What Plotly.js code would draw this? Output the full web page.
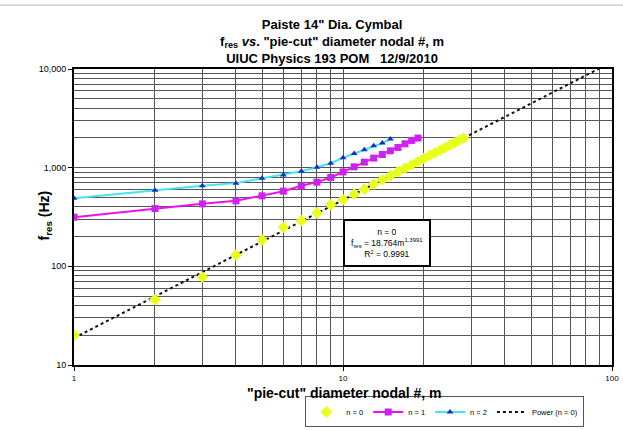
<!DOCTYPE html>
<html>
<head>
<meta charset="utf-8">
<script src="https://cdn.plot.ly/plotly-3.0.1.min.js"></script>
<style>html,body{margin:0;padding:0;background:#fff;}#chart{width:623px;height:430px;}</style>
</head>
<body>
<div id="chart"></div>
<script>
// Data
var m0 = [1,2,3,4,5,6,7,8,9,10,11,12,13,14,15,16,17,18,19,20,21,22,23,24,25,26,27,28];
var f0 = [20,46,78,130,185,249,290,348,420,475,540,606,680,754,830,910,990,1070,1155,1245,1330,1420,1510,1600,1700,1790,1890,1990];
var m1 = [1,2,3,4,5,6,7,8,9,10,11,12,13,14,15,16,17,18,19];
var f1 = [315,385,430,461,518,578,655,713,795,905,1020,1137,1250,1360,1482,1600,1745,1888,1995];
var m2 = [1,2,3,4,5,6,7,8,9,10,11,12,13,14,15];
var f2 = [491,592,656,697,780,843,922,1010,1110,1260,1390,1517,1667,1775,1950];
// Power trendline as stated on the chart: f = A * m^B
var fitA = 18.764, fitB = 1.3991;
var fitM = [1, 100];
var fitF = fitM.map(function(m){ return fitA * Math.pow(m, fitB); });

var yTicks = [10,100,1000,10000];
var yTickText = ['10','100','1,000','10,000'];
var xTicks = [1,10,100];
var xTickText = ['1','10','100'];

var font = 'Liberation Sans, Arial, sans-serif';

var traces = [
  {x:fitM, y:fitF, name:'Power (n = 0)', mode:'lines', type:'scatter', legendrank:4,
   line:{color:'#111', width:2, dash:'dot'}},
  {x:m0, y:f0, name:'n = 0', mode:'markers', type:'scatter', legendrank:1,
   marker:{symbol:'diamond', size:9, color:'#e8ff1a'}},
  {x:m1, y:f1, name:'n = 1', mode:'lines+markers', type:'scatter', legendrank:2,
   line:{color:'#ee11ee', width:2}, marker:{symbol:'square', size:7, color:'#cc22ee'}},
  {x:m2, y:f2, name:'n = 2', mode:'lines+markers', type:'scatter', legendrank:3,
   line:{color:'#44e4f4', width:2}, marker:{symbol:'triangle-up', size:6, color:'#1030c8'}}
];

var layout = {
  width:623, height:430,
  margin:{l:74, r:11, t:69, b:65},
  paper_bgcolor:'#fff', plot_bgcolor:'#fff',
  font:{family:font, size:9, color:'#000'},
  showlegend:true,
  legend:{orientation:'h', xref:'container', yref:'container', x:0.49, xanchor:'left', y:0.078, yanchor:'top',
    bordercolor:'#555', borderwidth:1, font:{size:7.5, family:font},
    traceorder:'normal', tracegroupgap:0, itemwidth:30},
  title:{text:'<b>Paiste 14" Dia. Cymbal</b><br><b>f<sub>res</sub> <i>vs</i>. "pie-cut" diameter nodal #, m</b><br><b>UIUC Physics 193 POM   12/9/2010</b>',
    x:0.533, xanchor:'center', y:0.933, yanchor:'top', font:{size:13, family:font}},
  xaxis:{type:'log', range:[0,2], tickvals:xTicks, ticktext:xTickText,
    showgrid:true, gridcolor:'#555', gridwidth:1,
    minor:{dtick:'D1', showgrid:true, gridcolor:'#555', gridwidth:1, ticks:''},
    ticks:'outside', ticklen:4, tickcolor:'#000',
    showline:true, linecolor:'#000', linewidth:2, mirror:true, zeroline:false,
    tickfont:{size:8}, automargin:false},
  yaxis:{type:'log', range:[1,4], tickvals:yTicks, ticktext:yTickText,
    showgrid:true, gridcolor:'#555', gridwidth:1,
    minor:{dtick:'D1', showgrid:true, gridcolor:'#555', gridwidth:1, ticks:''},
    ticks:'outside', ticklen:4, tickcolor:'#000',
    showline:true, linecolor:'#000', linewidth:2, mirror:true, zeroline:false,
    tickfont:{size:9}, automargin:false},
  shapes:[{type:'line', xref:'paper', yref:'paper', x0:-0.14, x1:1.03, y0:1.216, y1:1.216,
    line:{color:'#bbb', width:1}}],
  annotations:[{
    xref:'paper', yref:'paper', x:0.581, y:0.412, xanchor:'center', yanchor:'middle',
    text:'n = 0<br>f<sub>res</sub> = 18.764m<sup>1.3991</sup><br>R<sup>2</sup> = 0.9991',
    showarrow:false, align:'center', font:{size:8.5, family:font},
    bgcolor:'#fff', bordercolor:'#000', borderwidth:2, borderpad:6
  },{
    xref:'paper', yref:'paper', x:-0.054, y:0.505, xanchor:'center', yanchor:'middle',
    text:'<b>f<sub>res</sub> (Hz)</b>', textangle:-90, showarrow:false,
    font:{size:14, family:font}
  },{
    xref:'paper', yref:'paper', x:0.502, y:-0.093, xanchor:'center', yanchor:'middle',
    text:'<b>"pie-cut" diameter nodal #, m</b>', showarrow:false,
    font:{size:14, family:font}
  }]
};

Plotly.newPlot('chart', traces, layout, {displayModeBar:false, staticPlot:true});
</script>
</body>
</html>
